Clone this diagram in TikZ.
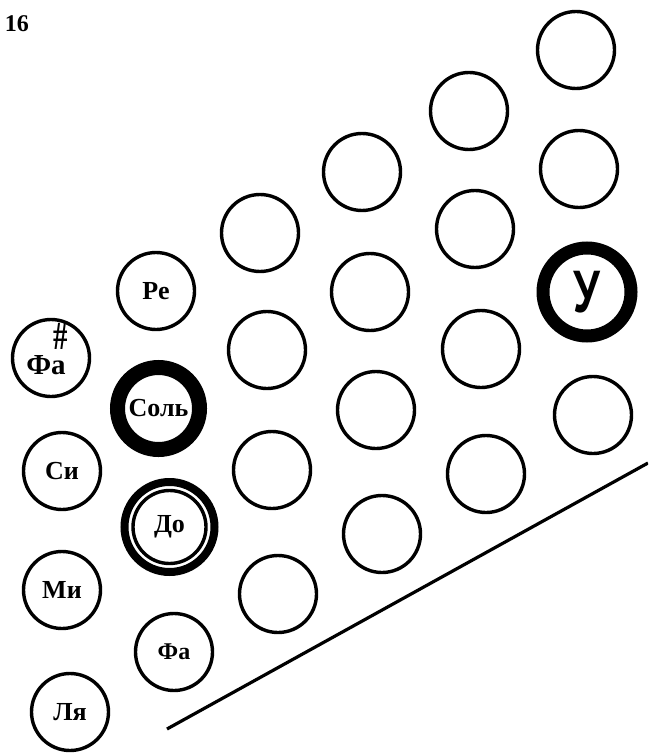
\documentclass[tikz,border=0pt]{standalone}
\usepackage{fontspec}
\setmainfont{Liberation Serif}
\newfontfamily\sansfnt{Liberation Sans}
\usepackage{graphicx}

\begin{document}
\begin{tikzpicture}[x=1pt,y=-1pt,
    key/.style={circle, draw, line width=3.4pt, minimum size=77pt, inner sep=0pt,
      font=\bfseries\fontsize{26}{26}\selectfont},
    keybold/.style={key, line width=15pt, minimum size=82pt},
    keyring/.style={key, minimum size=73pt},
    lbl/.style={inner sep=0pt, font=\bfseries\fontsize{29}{29}\selectfont}]
  \useasboundingbox (0,0) rectangle (648,754);
  \clip (0,0) rectangle (648,754);

  \node[anchor=base east, inner sep=0pt, font=\bfseries\fontsize{24}{24}\selectfont] (fignum) at (29,32) {16};

  % left row of named keys
  \node[key] (fis) at (51,358) {};
  \node[lbl, anchor=base] (fislbl) at (46,374) {Фа};
  \node[lbl, anchor=south, font=\bfseries\fontsize{32}{32}\selectfont] (sharp) at (61,350) {\scalebox{0.9}[1.25]{\#}};
  \node[key] (si) at (62,471) {Си};
  \node[key] (mi) at (62,590) {Ми};
  \node[key] (la) at (70,712) {Ля};

  \node[key] (re) at (156,291) {Ре};
  \node[keybold] (sol) at (158.5,408.5) {Соль};
  \node[keyring] (do) at (169.5,527) {До};
  \draw[line width=8pt] (do.center) circle (45pt);
  \node[key, font=\bfseries\fontsize{24}{24}\selectfont] (fa) at (174,652) {Фа};

  % empty keys
  \foreach \cx/\cy [count=\i] in {260/233, 267/350, 272/470, 278/594,
      362/172, 370/292, 376/410, 382/534,
      469/111, 475/229, 481/349, 486/474,
      576/50, 579/169, 593/415}
    \node[key] (k\i) at (\cx,\cy) {};

  \node[key, line width=13pt, minimum size=88pt,
    font=\sansfnt\bfseries\fontsize{60}{60}\selectfont] (u) at (587,292) {\scalebox{0.72}[1]{У}};

  \coordinate (edgeL) at (167,729);
  \coordinate (edgeR) at (648,463);
  \draw[line width=3.2pt] (edgeL) -- (edgeR);
\end{tikzpicture}
\end{document}
